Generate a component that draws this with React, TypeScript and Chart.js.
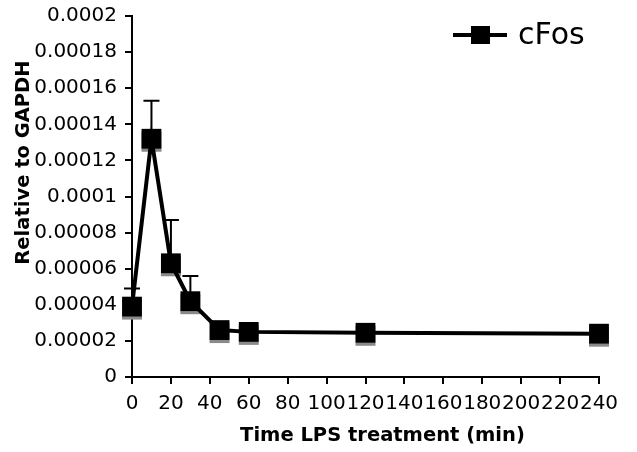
import React, { useEffect, useRef } from 'react';
import { Chart, registerables } from 'chart.js';

Chart.register(...registerables);

// ---- data ----
const times = [0, 10, 20, 30, 45, 60, 120, 240];
const cFosMean = [0.000039, 0.000132, 0.000063, 0.000042, 0.000026, 0.000025, 0.0000245, 0.000024];
const cFosErr = [0.00001, 0.000021, 0.000024, 0.000014, 0, 0, 0, 0];
const seriesName = 'cFos';
const yTickValues = [0, 0.00002, 0.00004, 0.00006, 0.00008, 0.0001, 0.00012, 0.00014, 0.00016, 0.00018, 0.0002];
const yTickLabels = ['0', '0.00002', '0.00004', '0.00006', '0.00008', '0.0001', '0.00012', '0.00014', '0.00016', '0.00018', '0.0002'];
const xTickValues = [0, 20, 40, 60, 80, 100, 120, 140, 160, 180, 200, 220, 240];
const xTickLabels = ['0', '20', '40', '60', '80', '100', '120', '140', '160', '180', '200', '220', '240'];
const xTitle = 'Time LPS treatment (min)';
const yTitle = 'Relative to GAPDH';

const FONT = "'DejaVu Sans', sans-serif";
const NB = '\u00A0';

Chart.defaults.font.family = FONT;

const shadowAndErrorPlugin = {
  id: 'shadowAndError',
  beforeDatasetsDraw(chart: any) {
    const ctx = chart.ctx;
    const meta = chart.getDatasetMeta(0);
    const yScale = chart.scales.y;
    ctx.save();
    ctx.strokeStyle = '#000';
    ctx.lineWidth = 2;
    meta.data.forEach((pt: any, i: number) => {
      const e = cFosErr[i];
      if (!e) return;
      const yTop = yScale.getPixelForValue(cFosMean[i] + e);
      ctx.beginPath();
      ctx.moveTo(pt.x, pt.y);
      ctx.lineTo(pt.x, yTop);
      ctx.moveTo(pt.x - 8, yTop);
      ctx.lineTo(pt.x + 8, yTop);
      ctx.stroke();
    });
    ctx.fillStyle = '#8a8a8a';
    const s = 20;
    meta.data.forEach((pt: any) => {
      ctx.fillRect(pt.x - s / 2, pt.y - s / 2 + 3, s, s);
    });
    ctx.restore();
  },
};

const legendPlugin = {
  id: 'customLegend',
  afterDraw(chart: any) {
    const ctx = chart.ctx;
    const area = chart.chartArea;
    const cy = area.top + 19;
    const x0 = area.right - 146;
    ctx.save();
    ctx.strokeStyle = '#000';
    ctx.lineWidth = 4;
    ctx.beginPath();
    ctx.moveTo(x0, cy);
    ctx.lineTo(x0 + 54, cy);
    ctx.stroke();
    ctx.fillStyle = '#000';
    ctx.fillRect(x0 + 18, cy - 9, 19, 18);
    ctx.font = `30px ${FONT}`;
    ctx.textBaseline = 'middle';
    ctx.textAlign = 'left';
    ctx.fillText(seriesName, x0 + 65, cy + 1);
    ctx.restore();
  },
};

export default function App() {
  const ref = useRef<HTMLCanvasElement | null>(null);
  useEffect(() => {
    if (!ref.current) return;
    const chart = new Chart(ref.current, {
      type: 'line',
      data: {
        datasets: [
          {
            label: seriesName,
            data: times.map((t, i) => ({ x: t, y: cFosMean[i] })),
            borderColor: '#000',
            backgroundColor: '#000',
            borderWidth: 4,
            pointStyle: 'rect',
            pointRadius: 14,
            pointBorderWidth: 0,
            pointBackgroundColor: '#000',
            tension: 0,
            clip: false as any,
          },
        ],
      },
      options: {
        animation: false,
        responsive: true,
        maintainAspectRatio: false,
        layout: { padding: { left: 0, right: 38, top: 16, bottom: 0 } },
        plugins: {
          legend: { display: false },
          tooltip: { enabled: false },
        },
        scales: {
          x: {
            type: 'linear',
            min: 0,
            max: 240,
            afterBuildTicks: (axis: any) => {
              axis.ticks = xTickValues.map((v) => ({ value: v }));
            },
            afterFit: (axis: any) => {
              axis.height = 75;
            },
            ticks: {
              autoSkip: false,
              maxRotation: 0,
              padding: 8,
              color: '#000',
              font: { family: FONT, size: 20 },
              callback: (_v: any, i: number) => xTickLabels[i],
            },
            grid: { drawOnChartArea: false, drawTicks: true, tickLength: 7, color: '#000', lineWidth: 2 },
            border: { display: true, color: '#000', width: 2 },
            title: {
              display: true,
              text: NB.repeat(5) + xTitle,
              color: '#000',
              font: { family: FONT, size: 19.5, weight: 'bold' },
              padding: { top: 0, bottom: 4 },
            },
          },
          y: {
            type: 'linear',
            min: 0,
            max: 0.0002,
            afterBuildTicks: (axis: any) => {
              axis.ticks = yTickValues.map((v) => ({ value: v }));
            },
            afterFit: (axis: any) => {
              axis.width = 132;
              axis.paddingTop = 0;
              axis.paddingBottom = 0;
            },
            ticks: {
              padding: 8,
              color: '#000',
              font: { family: FONT, size: 20 },
              callback: (_v: any, i: number) => yTickLabels[i],
            },
            grid: { drawOnChartArea: false, drawTicks: true, tickLength: 7, color: '#000', lineWidth: 2 },
            border: { display: true, color: '#000', width: 2 },
            title: {
              display: true,
              text: NB.repeat(10) + yTitle,
              color: '#000',
              font: { family: FONT, size: 19.5, weight: 'bold' },
              padding: { top: 12, bottom: 0 },
            },
          },
        },
      },
      plugins: [shadowAndErrorPlugin, legendPlugin],
    });
    return () => chart.destroy();
  }, []);
  return (
    <div style={{ position: 'fixed', left: 0, top: 0, width: 637, height: 452, background: '#fff' }}>
      <canvas ref={ref} />
    </div>
  );
}
